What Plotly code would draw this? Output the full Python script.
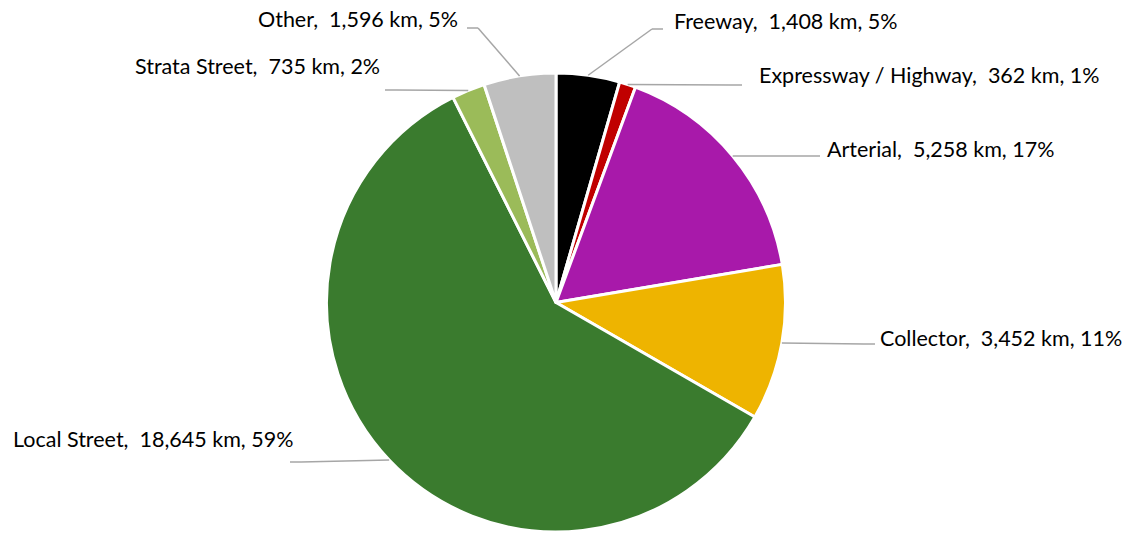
import math
import plotly.graph_objects as go

# ---- data ----
categories = ["Freeway", "Expressway / Highway", "Arterial", "Collector",
              "Local Street", "Strata Street", "Other"]
lengths_km = [1408, 362, 5258, 3452, 18645, 735, 1596]
pct_labels = [5, 1, 17, 11, 59, 2, 5]

# ---- style / layout ----
colors = ["#000000", "#C00000", "#A819AA", "#EEB400", "#3A7B2E", "#9BBB59", "#BFBFBF"]
W, H = 1135, 533
CX, CY, R = 556, 302.5, 229.5
# leader-line attachment points and label anchors (pixels)
attach = [(663, 29), (742, 85), (820, 156), (875, 344), (290, 462), (385, 90), (467, 28)]
label_pos = [(672, 20.7, "left"), (757, 74.7, "left"), (825, 148.7, "left"),
             (878, 337.7, "left"), (295, 438.7, "right"), (382, 65.7, "right"),
             (460, 18.7, "right")]

def px(x):
    return x / W

def py(y):
    return 1 - y / H

fig = go.Figure(go.Pie(
    labels=categories, values=lengths_km, sort=False, direction="clockwise",
    rotation=0, textinfo="none", hoverinfo="label+value+percent",
    marker=dict(colors=colors, line=dict(color="#FFFFFF", width=3)),
    domain=dict(x=[px(CX - R), px(CX + R)], y=[py(CY + R), py(CY - R)]),
    showlegend=False,
))

total = sum(lengths_km)
shapes = []
annotations = []
cum = 0.0
for i, (name, v) in enumerate(zip(categories, lengths_km)):
    mid = (cum + v / 2) / total * 2 * math.pi
    cum += v
    sx = CX + R * math.sin(mid)
    sy = CY - R * math.cos(mid)
    ax, ay = attach[i]
    d = 1 if ax > sx else -1
    ex = ax - d * 11
    line = dict(color="#A6A6A6", width=1.5)
    shapes.append(dict(type="line", xref="paper", yref="paper",
                       x0=px(sx), y0=py(sy), x1=px(ex), y1=py(ay), line=line, layer="above"))
    shapes.append(dict(type="line", xref="paper", yref="paper",
                       x0=px(ex), y0=py(ay), x1=px(ax), y1=py(ay), line=line, layer="above"))
    lx, ly, anc = label_pos[i]
    annotations.append(dict(
        x=px(lx), y=py(ly), xref="paper", yref="paper", xanchor=anc, yanchor="middle",
        text=f"{name},\u00a0 {v:,} km, {pct_labels[i]}%", showarrow=False,
        font=dict(family="Lato", size=21.5, color="#000000")))

fig.update_layout(
    width=W, height=H, margin=dict(l=0, r=0, t=0, b=0),
    paper_bgcolor="#FFFFFF", plot_bgcolor="#FFFFFF",
    shapes=shapes, annotations=annotations,
)

fig.write_html("out.html", config={"displayModeBar": False},
               post_script="document.body.style.margin='0';document.body.style.overflow='hidden';")
